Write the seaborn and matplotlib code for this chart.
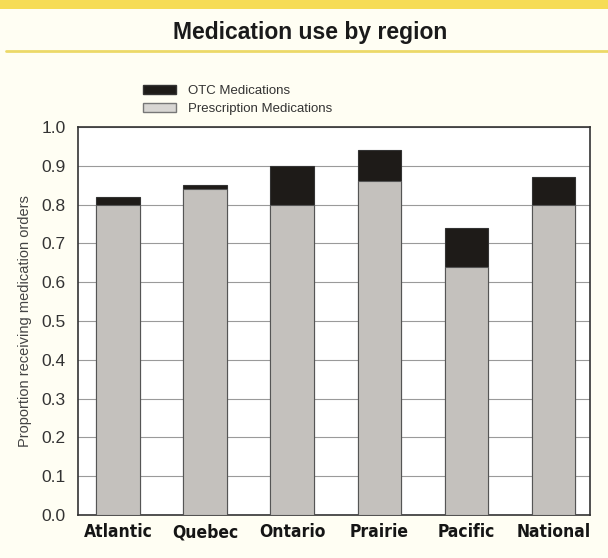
import pandas as pd
import matplotlib.pyplot as plt
import matplotlib.patches as mpatches
import seaborn as sns

# values
regions = ['Atlantic', 'Quebec', 'Ontario', 'Prairie', 'Pacific', 'National']
prescription = [0.80, 0.84, 0.80, 0.86, 0.64, 0.80]
otc = [0.02, 0.01, 0.10, 0.08, 0.10, 0.07]
y_ticks = [0.0, 0.1, 0.2, 0.3, 0.4, 0.5, 0.6, 0.7, 0.8, 0.9, 1.0]

df = pd.DataFrame({'region': regions, 'prescription': prescription, 'otc': otc})
df['total'] = df['prescription'] + df['otc']

sns.set_style('white')
plt.rcParams['font.family'] = ['Liberation Sans', 'DejaVu Sans']

fig = plt.figure(figsize=(6.08, 5.58), dpi=100)
fig.patch.set_facecolor('#fffef3')
ax = fig.add_axes([78 / 608, 1 - 515 / 558, 512 / 608, 388 / 558])
ax.set_facecolor('white')

# yellow header band and rule under the title
fig.patches.append(mpatches.Rectangle((0, 1 - 9 / 558), 1, 9 / 558, transform=fig.transFigure,
                                      facecolor='#f6dc55', edgecolor='none'))
fig.add_artist(plt.Line2D([0.01, 1], [1 - 51 / 558] * 2, transform=fig.transFigure,
                          color='#ecd968', lw=2))
fig.text(0.51, 1 - 33 / 558, 'Medication use by region', ha='center', va='center',
         fontsize=16.5, fontweight='bold', color='#1a1a1a')

sns.barplot(data=df, x='region', y='total', color='#1e1b18', saturation=1, width=0.5,
            edgecolor='#333333', linewidth=0.8, ax=ax, zorder=3)
sns.barplot(data=df, x='region', y='prescription', color='#c4c1bd', saturation=1, width=0.5,
            edgecolor='#555555', linewidth=0.8, ax=ax, zorder=4)

ax.set_ylim(0, 1.0)
ax.set_xlim(-0.46, 5.42)
ax.set_yticks(y_ticks)
ax.set_yticklabels([f'{t:.1f}' for t in y_ticks], fontsize=12.5, color='#333333')
ax.yaxis.grid(True, color='#9a9a9a', lw=0.8, zorder=0)
ax.tick_params(axis='y', length=0, pad=9)
ax.tick_params(axis='x', length=0, pad=6)
ax.set_xticks(range(len(regions)))
ax.set_xticklabels(regions, fontsize=12.5, fontweight='bold', color='#151515',
                   family='DejaVu Sans', fontstretch='condensed')
ax.set_xlabel('')
ax.set_ylabel('Proportion receiving medication orders', fontsize=10.5, color='#444444', labelpad=7)
for s in ax.spines.values():
    s.set_color('#333333')
    s.set_linewidth(1.2)

handles = [mpatches.Patch(facecolor='#1e1b18', edgecolor='#333333', label='OTC Medications'),
           mpatches.Patch(facecolor='#d8d6d3', edgecolor='#777777', label='Prescription Medications')]
fig.legend(handles=handles, loc='upper left', bbox_to_anchor=(131 / 608, 1 - 73 / 558),
           frameon=False, fontsize=9.5, handlelength=2.5, handleheight=0.7,
           labelspacing=0.45, handletextpad=0.9, labelcolor='#333333')

fig.savefig('out.png', dpi=100, facecolor=fig.get_facecolor())
